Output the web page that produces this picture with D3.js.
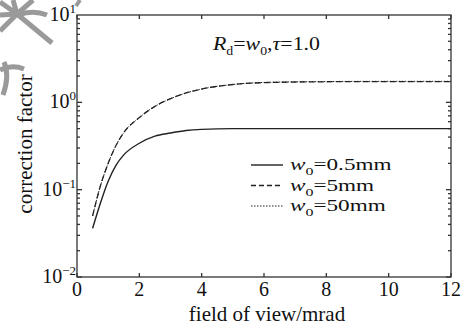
<!DOCTYPE html>
<html><head><meta charset="utf-8">
<script src="https://cdn.jsdelivr.net/npm/d3@7"></script>
<style>body{margin:0;background:#fff}svg{display:block}text{font-family:"Liberation Serif","DejaVu Serif",serif;fill:#111}</style>
</head><body><svg id="c" width="465" height="327"></svg>
<script>
const fov = [0.5,0.75,1,1.25,1.5,2,2.5,3,3.5,4,5,6,8,10,12];
const w05 = [0.036,0.07,0.125,0.19,0.25,0.34,0.41,0.445,0.475,0.49,0.5,0.5,0.5,0.5,0.5];
const w5 = [0.05,0.11,0.2,0.32,0.45,0.67,0.9,1.1,1.28,1.42,1.6,1.68,1.72,1.73,1.73];
const w50 = [0.05,0.11,0.2,0.32,0.45,0.67,0.9,1.1,1.28,1.42,1.6,1.69,1.73,1.74,1.74];
const xTicks = [0,2,4,6,8,10,12];
const yTicks = [-2,-1,0,1];
const legendLabels = ["=0.5mm","=5mm","=50mm"];

const svg = d3.select("#c");
const L=77,R=451,T=15,B=277;
const x = d3.scaleLinear().domain([0,12]).range([L,R]);
const y = d3.scaleLog().domain([0.01,10]).range([B,T]);

// watermark
const wm = svg.append("g").attr("stroke","#9a9a9a").attr("stroke-width",5).attr("fill","none");
const cx=17,cy=14;
[[35,29],[-17,-12],[-4,-14],[16,-14],[-17,1],[-17,17]].forEach(d=>{
  wm.append("line").attr("x1",cx).attr("y1",cy).attr("x2",cx+d[0]).attr("y2",cy+d[1]);
});
wm.append("path").attr("d","M20,14 Q35,10 47,15");
wm.append("path").attr("d","M0,70 Q12,64 24,69");
wm.append("path").attr("d","M4,62 Q10,75 3,95");
wm.append("path").attr("d","M76,6 L80,0").attr("stroke-width",4);

const ax = svg.append("g").attr("stroke","#333").attr("stroke-width",1.3).attr("fill","none");
ax.append("rect").attr("x",L).attr("y",T).attr("width",R-L).attr("height",B-T);
xTicks.forEach(t=>{
  ax.append("line").attr("x1",x(t)).attr("x2",x(t)).attr("y1",B).attr("y2",B-4);
  ax.append("line").attr("x1",x(t)).attr("x2",x(t)).attr("y1",T).attr("y2",T+4);
});
for(let e=-2;e<1;e++){
  for(let m=1;m<10;m++){
    const v=m*Math.pow(10,e);
    const len = m===1?5:3;
    ax.append("line").attr("x1",L).attr("x2",L+len).attr("y1",y(v)).attr("y2",y(v));
    ax.append("line").attr("x1",R).attr("x2",R-len).attr("y1",y(v)).attr("y2",y(v));
  }
}

// tick labels
xTicks.forEach(t=>{
  svg.append("text").attr("x",x(t)).attr("y",B+19).attr("text-anchor","middle").attr("font-size",20).text(t);
});
yTicks.forEach(e=>{
  const g=svg.append("text").attr("x",L-1).attr("y",y(Math.pow(10,e))+6).attr("text-anchor","end").attr("font-size",20);
  g.append("tspan").text("10");
  g.append("tspan").attr("dy",-8).attr("font-size",13).text(e<0?"\u2212"+(-e):e);
});
svg.append("text").attr("x",267).attr("y",321).attr("text-anchor","middle").attr("font-size",21).text("field of view/mrad");
svg.append("text").attr("transform",`translate(32,144) rotate(-90)`).attr("text-anchor","middle").attr("font-size",21).text("correction factor");

// title
const tt=svg.append("text").attr("transform","translate(213,50) scale(1.15,1)").attr("font-size",19);
tt.append("tspan").attr("font-style","italic").text("R");
tt.append("tspan").attr("font-size",12).attr("dy",5).text("d");
tt.append("tspan").attr("dy",-5).text("=");
tt.append("tspan").attr("font-style","italic").text("w");
tt.append("tspan").attr("font-size",12).attr("dy",5).text("0");
tt.append("tspan").attr("dy",-5).text(",");
tt.append("tspan").attr("font-style","italic").text("\u03c4");
tt.append("tspan").text("=1.0");

const line = d3.line().x((d,i)=>x(fov[i])).y(d=>y(d)).curve(d3.curveMonotoneX);
const styles=[{d:w05,dash:null,w:1.4},{d:w5,dash:"6,3",w:1.3},{d:w50,dash:"1.5,1.5",w:1}];
styles.forEach(s=>{
  svg.append("path").attr("d",line(s.d)).attr("fill","none").attr("stroke","#222").attr("stroke-width",s.w).attr("stroke-dasharray",s.dash);
});

// legend
styles.forEach((s,i)=>{
  const yy=165+i*20.5;
  svg.append("line").attr("x1",251).attr("x2",283).attr("y1",yy).attr("y2",yy).attr("stroke","#222").attr("stroke-width",s.w).attr("stroke-dasharray",s.dash==="6,3"?"5,3":s.dash);
  const t=svg.append("text").attr("transform",`translate(290,${yy+5}) scale(1.45,1)`).attr("font-size",16);
  t.append("tspan").attr("font-style","italic").text("w");
  t.append("tspan").attr("font-size",11).attr("dy",5).text("0");
  t.append("tspan").attr("dy",-5).text(legendLabels[i]);
});
</script></body></html>
